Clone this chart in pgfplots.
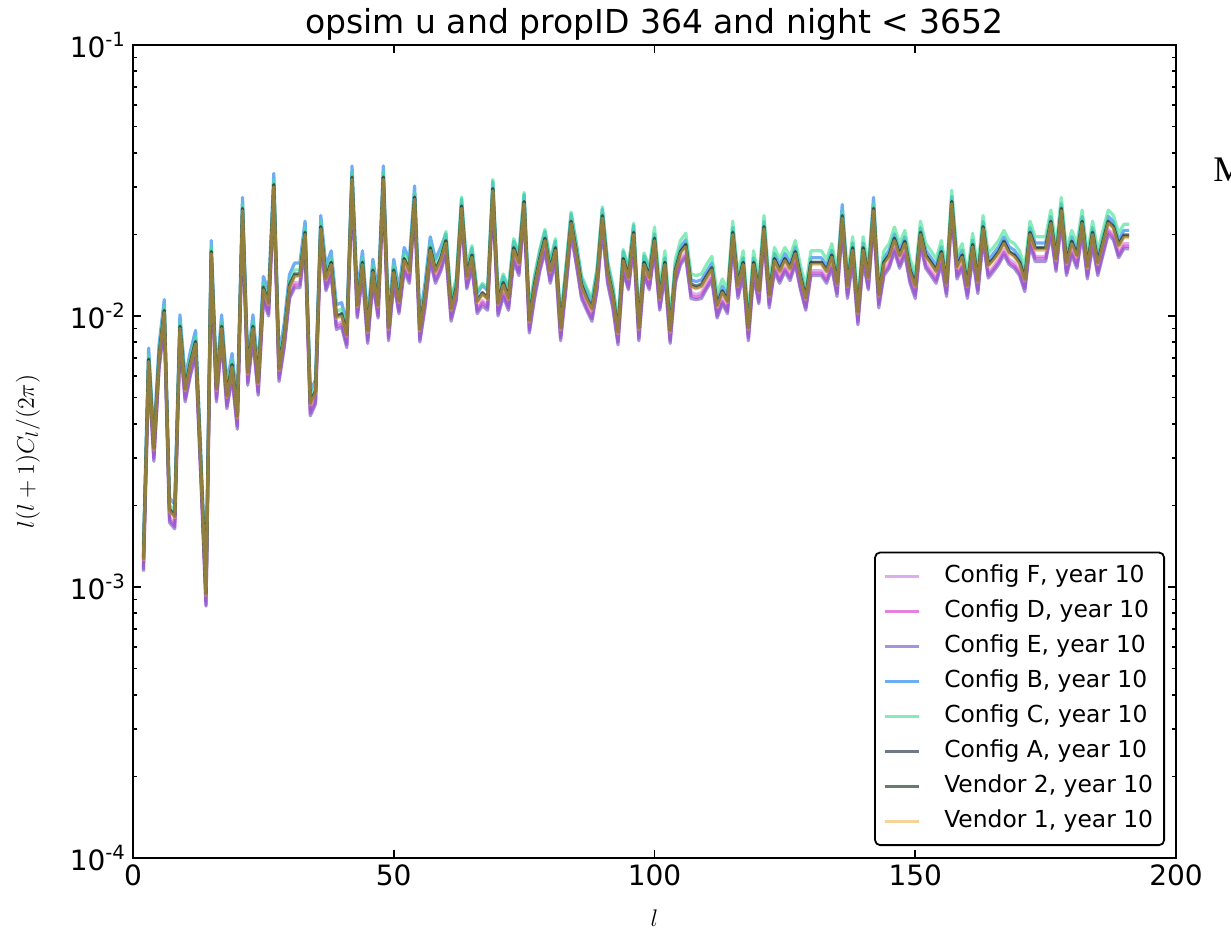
\documentclass[border=0pt]{standalone}
\usepackage{pgfplots}
\pgfplotsset{compat=1.18}
\usepackage{pgfplotstable}
\usepackage{fontspec}
\setmainfont{DejaVu Sans}
\newfontfamily\seriffont{Liberation Serif}

\definecolor{cF}{RGB}{205,130,230}
\definecolor{cD}{RGB}{215,60,205}
\definecolor{cE}{RGB}{120,90,200}
\definecolor{cB}{RGB}{30,130,240}
\definecolor{cC}{RGB}{70,225,150}
\definecolor{cA}{RGB}{35,50,70}
\definecolor{cW}{RGB}{20,55,30}
\definecolor{cV}{RGB}{240,175,70}

\pgfplotstableread{
l F D E B C A W V
2 1.19e-3 1.16e-3 1.14e-3 1.40e-3 1.33e-3 1.28e-3 1.26e-3 1.25e-3
3 6.46e-3 6.32e-3 6.19e-3 7.62e-3 7.21e-3 6.94e-3 6.87e-3 6.8e-3
4 3.04e-3 2.98e-3 2.91e-3 3.58e-3 3.39e-3 3.26e-3 3.23e-3 3.2e-3
5 6.65e-3 6.51e-3 6.37e-3 7.84e-3 7.42e-3 7.14e-3 7.07e-3 7.0e-3
6 9.79e-3 9.58e-3 9.37e-3 11.5e-3 10.9e-3 10.5e-3 10.4e-3 10.3e-3
7 1.81e-3 1.77e-3 1.73e-3 2.13e-3 2.01e-3 1.94e-3 1.92e-3 1.9e-3
8 1.71e-3 1.67e-3 1.64e-3 2.02e-3 1.91e-3 1.84e-3 1.82e-3 1.8e-3
9 8.55e-3 8.37e-3 8.19e-3 10.1e-3 9.54e-3 9.18e-3 9.09e-3 9.0e-3
10 5.04e-3 4.93e-3 4.82e-3 5.94e-3 5.62e-3 5.41e-3 5.35e-3 5.3e-3
11 6.27e-3 6.14e-3 6.01e-3 7.39e-3 7.0e-3 6.73e-3 6.67e-3 6.6e-3
12 7.51e-3 7.35e-3 7.19e-3 8.85e-3 8.37e-3 8.06e-3 7.98e-3 7.9e-3
13 2.66e-3 2.60e-3 2.55e-3 3.14e-3 2.97e-3 2.86e-3 2.83e-3 2.8e-3
14 0.88e-3 0.86e-3 0.85e-3 1.04e-3 0.99e-3 0.95e-3 0.94e-3 0.93e-3
15 16.2e-3 15.8e-3 15.5e-3 19.0e-3 18.0e-3 17.3e-3 17.2e-3 17.0e-3
16 5.04e-3 4.93e-3 4.82e-3 5.94e-3 5.62e-3 5.41e-3 5.35e-3 5.3e-3
17 8.55e-3 8.37e-3 8.19e-3 10.1e-3 9.54e-3 9.18e-3 9.09e-3 9.0e-3
18 4.75e-3 4.65e-3 4.55e-3 5.60e-3 5.30e-3 5.10e-3 5.05e-3 5.0e-3
19 6.18e-3 6.05e-3 5.92e-3 7.28e-3 6.89e-3 6.63e-3 6.57e-3 6.5e-3
20 3.99e-3 3.91e-3 3.82e-3 4.70e-3 4.45e-3 4.28e-3 4.24e-3 4.2e-3
21 23.3e-3 22.8e-3 22.3e-3 27.4e-3 26.0e-3 25.0e-3 24.7e-3 24.5e-3
22 5.80e-3 5.67e-3 5.55e-3 6.83e-3 6.47e-3 6.22e-3 6.16e-3 6.1e-3
23 8.55e-3 8.37e-3 8.19e-3 10.1e-3 9.54e-3 9.18e-3 9.09e-3 9.0e-3
24 5.32e-3 5.21e-3 5.10e-3 6.27e-3 5.94e-3 5.71e-3 5.66e-3 5.6e-3
25 11.9e-3 11.6e-3 11.4e-3 14.0e-3 13.3e-3 12.8e-3 12.6e-3 12.5e-3
26 10.5e-3 10.2e-3 10.0e-3 12.3e-3 11.7e-3 11.2e-3 11.1e-3 11.0e-3
27 28.5e-3 27.9e-3 27.3e-3 33.6e-3 31.8e-3 30.6e-3 30.3e-3 30.0e-3
28 5.99e-3 5.86e-3 5.73e-3 7.06e-3 6.68e-3 6.43e-3 6.36e-3 6.3e-3
29 7.98e-3 7.81e-3 7.64e-3 9.41e-3 8.90e-3 8.57e-3 8.48e-3 8.4e-3
30 12.1e-3 11.8e-3 11.6e-3 14.2e-3 13.5e-3 13.0e-3 12.8e-3 12.7e-3
31 13.3e-3 13.0e-3 12.7e-3 15.7e-3 14.8e-3 14.3e-3 14.1e-3 14.0e-3
32 13.3e-3 13.0e-3 12.7e-3 15.7e-3 14.8e-3 14.3e-3 14.1e-3 14.0e-3
33 19.0e-3 18.6e-3 18.2e-3 22.4e-3 21.2e-3 20.4e-3 20.2e-3 20.0e-3
34 4.47e-3 4.37e-3 4.28e-3 5.26e-3 4.98e-3 4.79e-3 4.75e-3 4.7e-3
35 4.94e-3 4.84e-3 4.73e-3 5.82e-3 5.51e-3 5.30e-3 5.25e-3 5.2e-3
36 20.0e-3 19.5e-3 19.1e-3 23.5e-3 22.3e-3 21.4e-3 21.2e-3 21.0e-3
37 12.9e-3 12.6e-3 12.4e-3 15.2e-3 14.4e-3 13.9e-3 13.7e-3 13.6e-3
38 14.7e-3 14.4e-3 14.1e-3 17.4e-3 16.4e-3 15.8e-3 15.7e-3 15.5e-3
39 9.31e-3 9.11e-3 8.92e-3 11.0e-3 10.4e-3 10.0e-3 9.90e-3 9.8e-3
40 9.50e-3 9.30e-3 9.10e-3 11.2e-3 10.6e-3 10.2e-3 10.1e-3 10.0e-3
41 7.98e-3 7.81e-3 7.64e-3 9.41e-3 8.90e-3 8.57e-3 8.48e-3 8.4e-3
42 30.4e-3 29.8e-3 29.1e-3 35.8e-3 33.9e-3 32.6e-3 32.3e-3 32.0e-3
43 10.3e-3 10.0e-3 9.83e-3 12.1e-3 11.4e-3 11.0e-3 10.9e-3 10.8e-3
44 14.7e-3 14.4e-3 14.1e-3 17.4e-3 16.4e-3 15.8e-3 15.7e-3 15.5e-3
45 8.27e-3 8.09e-3 7.92e-3 9.74e-3 9.22e-3 8.87e-3 8.79e-3 8.7e-3
46 13.8e-3 13.5e-3 13.2e-3 16.2e-3 15.4e-3 14.8e-3 14.6e-3 14.5e-3
47 10.3e-3 10.0e-3 9.83e-3 12.1e-3 11.4e-3 11.0e-3 10.9e-3 10.8e-3
48 30.4e-3 29.8e-3 29.1e-3 35.8e-3 33.9e-3 32.6e-3 32.3e-3 32.0e-3
49 8.46e-3 8.28e-3 8.10e-3 9.97e-3 9.43e-3 9.08e-3 8.99e-3 8.9e-3
50 13.8e-3 13.5e-3 13.2e-3 16.2e-3 15.4e-3 14.8e-3 14.6e-3 14.5e-3
51 10.6e-3 10.4e-3 10.2e-3 12.5e-3 11.9e-3 11.4e-3 11.3e-3 11.2e-3
52 15.2e-3 14.9e-3 14.6e-3 17.9e-3 17.0e-3 16.3e-3 16.2e-3 16.0e-3
53 13.8e-3 13.5e-3 13.2e-3 16.2e-3 15.4e-3 14.8e-3 14.6e-3 14.5e-3
54 25.7e-3 25.1e-3 24.6e-3 30.2e-3 28.6e-3 27.5e-3 27.3e-3 27.0e-3
55 8.36e-3 8.18e-3 8.01e-3 9.86e-3 9.33e-3 8.98e-3 8.89e-3 8.8e-3
56 11.2e-3 11.0e-3 10.7e-3 13.2e-3 12.5e-3 12.0e-3 11.9e-3 11.8e-3
57 16.6e-3 16.3e-3 15.9e-3 19.6e-3 18.6e-3 17.9e-3 17.7e-3 17.5e-3
58 13.8e-3 13.5e-3 13.2e-3 16.2e-3 15.4e-3 14.8e-3 14.6e-3 14.5e-3
59 15.2e-3 14.9e-3 14.6e-3 17.9e-3 17.0e-3 16.3e-3 16.2e-3 16.0e-3
60 17.7e-3 17.3e-3 16.9e-3 20.1e-3 20.5e-3 19.0e-3 18.8e-3 18.6e-3
61 9.98e-3 9.77e-3 9.56e-3 11.3e-3 11.6e-3 10.7e-3 10.6e-3 10.5e-3
62 11.9e-3 11.6e-3 11.4e-3 13.5e-3 13.8e-3 12.8e-3 12.6e-3 12.5e-3
63 23.8e-3 23.3e-3 22.8e-3 27.0e-3 27.5e-3 25.5e-3 25.3e-3 25.0e-3
64 13.1e-3 12.8e-3 12.6e-3 14.9e-3 15.2e-3 14.1e-3 13.9e-3 13.8e-3
65 15.7e-3 15.3e-3 15.0e-3 17.8e-3 18.2e-3 16.8e-3 16.7e-3 16.5e-3
66 10.6e-3 10.4e-3 10.2e-3 12.1e-3 12.3e-3 11.4e-3 11.3e-3 11.2e-3
67 11.4e-3 11.2e-3 10.9e-3 13.0e-3 13.2e-3 12.2e-3 12.1e-3 12.0e-3
68 10.9e-3 10.7e-3 10.5e-3 12.4e-3 12.7e-3 11.7e-3 11.6e-3 11.5e-3
69 27.6e-3 27.0e-3 26.4e-3 31.3e-3 31.9e-3 29.6e-3 29.3e-3 29.0e-3
70 10.5e-3 10.2e-3 10.0e-3 11.9e-3 12.1e-3 11.2e-3 11.1e-3 11.0e-3
71 12.4e-3 12.1e-3 11.8e-3 14.0e-3 14.3e-3 13.3e-3 13.1e-3 13.0e-3
72 10.9e-3 10.7e-3 10.5e-3 12.4e-3 12.7e-3 11.7e-3 11.6e-3 11.5e-3
73 16.6e-3 16.3e-3 15.9e-3 18.9e-3 19.3e-3 17.9e-3 17.7e-3 17.5e-3
74 14.7e-3 14.4e-3 14.1e-3 16.7e-3 17.1e-3 15.8e-3 15.7e-3 15.5e-3
75 24.7e-3 24.2e-3 23.7e-3 28.1e-3 28.6e-3 26.5e-3 26.3e-3 26.0e-3
76 9.03e-3 8.84e-3 8.65e-3 10.3e-3 10.5e-3 9.69e-3 9.60e-3 9.5e-3
77 12.2e-3 11.9e-3 11.6e-3 13.8e-3 14.1e-3 13.1e-3 12.9e-3 12.8e-3
78 15.2e-3 14.9e-3 14.6e-3 17.3e-3 17.6e-3 16.3e-3 16.2e-3 16.0e-3
79 18.1e-3 17.7e-3 17.3e-3 20.5e-3 20.9e-3 19.4e-3 19.2e-3 19.0e-3
80 13.8e-3 13.5e-3 13.2e-3 15.7e-3 16.0e-3 14.8e-3 14.6e-3 14.5e-3
81 16.6e-3 16.3e-3 15.9e-3 18.9e-3 19.3e-3 17.9e-3 17.7e-3 17.5e-3
82 8.46e-3 8.28e-3 8.10e-3 9.61e-3 9.79e-3 9.08e-3 8.99e-3 8.9e-3
83 13.0e-3 12.7e-3 12.5e-3 14.8e-3 15.1e-3 14.0e-3 13.8e-3 13.7e-3
84 20.9e-3 20.5e-3 20.0e-3 23.8e-3 24.2e-3 22.4e-3 22.2e-3 22.0e-3
85 16.2e-3 15.8e-3 15.5e-3 18.4e-3 18.7e-3 17.3e-3 17.2e-3 17.0e-3
86 12.2e-3 11.9e-3 11.6e-3 13.8e-3 14.1e-3 13.1e-3 12.9e-3 12.8e-3
87 10.9e-3 10.7e-3 10.5e-3 12.4e-3 12.7e-3 11.7e-3 11.6e-3 11.5e-3
88 9.98e-3 9.77e-3 9.56e-3 11.3e-3 11.6e-3 10.7e-3 10.6e-3 10.5e-3
89 13.0e-3 12.7e-3 12.5e-3 14.8e-3 15.1e-3 14.0e-3 13.8e-3 13.7e-3
90 21.9e-3 21.4e-3 20.9e-3 24.8e-3 25.3e-3 23.5e-3 23.2e-3 23.0e-3
91 13.8e-3 13.5e-3 13.2e-3 15.7e-3 16.0e-3 14.8e-3 14.6e-3 14.5e-3
92 11.2e-3 11.0e-3 10.7e-3 12.7e-3 13.0e-3 12.0e-3 11.9e-3 11.8e-3
93 8.17e-3 8.00e-3 7.83e-3 9.29e-3 9.46e-3 8.77e-3 8.69e-3 8.6e-3
94 15.2e-3 14.9e-3 14.6e-3 17.3e-3 17.6e-3 16.3e-3 16.2e-3 16.0e-3
95 13.0e-3 12.7e-3 12.5e-3 14.8e-3 15.1e-3 14.0e-3 13.8e-3 13.7e-3
96 19.0e-3 18.6e-3 18.2e-3 21.6e-3 22.0e-3 20.4e-3 20.2e-3 20.0e-3
97 8.46e-3 8.28e-3 8.10e-3 9.61e-3 9.79e-3 9.08e-3 8.99e-3 8.9e-3
98 14.7e-3 14.4e-3 14.1e-3 16.7e-3 17.1e-3 15.8e-3 15.7e-3 15.5e-3
99 13.0e-3 12.7e-3 12.5e-3 14.8e-3 15.1e-3 14.0e-3 13.8e-3 13.7e-3
100 18.1e-3 17.7e-3 17.3e-3 20.1e-3 21.3e-3 19.4e-3 19.2e-3 19.0e-3
101 10.9e-3 10.7e-3 10.5e-3 12.2e-3 12.9e-3 11.7e-3 11.6e-3 11.5e-3
102 14.7e-3 14.4e-3 14.1e-3 16.4e-3 17.4e-3 15.8e-3 15.7e-3 15.5e-3
103 8.27e-3 8.09e-3 7.92e-3 9.22e-3 9.74e-3 8.87e-3 8.79e-3 8.7e-3
104 13.8e-3 13.5e-3 13.2e-3 15.4e-3 16.2e-3 14.8e-3 14.6e-3 14.5e-3
105 16.2e-3 15.8e-3 15.5e-3 18.0e-3 19.0e-3 17.3e-3 17.2e-3 17.0e-3
106 17.1e-3 16.7e-3 16.4e-3 19.1e-3 20.2e-3 18.4e-3 18.2e-3 18.0e-3
107 12.2e-3 11.9e-3 11.6e-3 13.6e-3 14.3e-3 13.1e-3 12.9e-3 12.8e-3
108 12.0e-3 11.7e-3 11.5e-3 13.4e-3 14.1e-3 12.9e-3 12.7e-3 12.6e-3
109 12.2e-3 11.9e-3 11.6e-3 13.6e-3 14.3e-3 13.1e-3 12.9e-3 12.8e-3
110 13.1e-3 12.8e-3 12.6e-3 14.6e-3 15.5e-3 14.1e-3 13.9e-3 13.8e-3
111 14.1e-3 13.8e-3 13.5e-3 15.7e-3 16.6e-3 15.1e-3 14.9e-3 14.8e-3
112 10.3e-3 10.0e-3 9.83e-3 11.4e-3 12.1e-3 11.0e-3 10.9e-3 10.8e-3
113 11.6e-3 11.3e-3 11.1e-3 12.9e-3 13.7e-3 12.4e-3 12.3e-3 12.2e-3
114 10.6e-3 10.4e-3 10.2e-3 11.9e-3 12.5e-3 11.4e-3 11.3e-3 11.2e-3
115 19.0e-3 18.6e-3 18.2e-3 21.2e-3 22.4e-3 20.4e-3 20.2e-3 20.0e-3
116 12.2e-3 11.9e-3 11.6e-3 13.6e-3 14.3e-3 13.1e-3 12.9e-3 12.8e-3
117 14.7e-3 14.4e-3 14.1e-3 16.4e-3 17.4e-3 15.8e-3 15.7e-3 15.5e-3
118 8.46e-3 8.28e-3 8.10e-3 9.43e-3 9.97e-3 9.08e-3 8.99e-3 8.9e-3
119 14.7e-3 14.4e-3 14.1e-3 16.4e-3 17.4e-3 15.8e-3 15.7e-3 15.5e-3
120 11.6e-3 11.3e-3 11.1e-3 12.9e-3 13.7e-3 12.4e-3 12.3e-3 12.2e-3
121 20.0e-3 19.5e-3 19.1e-3 22.3e-3 23.5e-3 21.4e-3 21.2e-3 21.0e-3
122 11.2e-3 11.0e-3 10.7e-3 12.5e-3 13.2e-3 12.0e-3 11.9e-3 11.8e-3
123 15.2e-3 14.9e-3 14.6e-3 17.0e-3 17.9e-3 16.3e-3 16.2e-3 16.0e-3
124 13.8e-3 13.5e-3 13.2e-3 15.4e-3 16.2e-3 14.8e-3 14.6e-3 14.5e-3
125 15.2e-3 14.9e-3 14.6e-3 17.0e-3 17.9e-3 16.3e-3 16.2e-3 16.0e-3
126 14.1e-3 13.8e-3 13.5e-3 15.7e-3 16.6e-3 15.1e-3 14.9e-3 14.8e-3
127 16.2e-3 15.8e-3 15.5e-3 18.0e-3 19.0e-3 17.3e-3 17.2e-3 17.0e-3
128 13.0e-3 12.7e-3 12.5e-3 14.5e-3 15.3e-3 14.0e-3 13.8e-3 13.7e-3
129 10.9e-3 10.7e-3 10.5e-3 12.2e-3 12.9e-3 11.7e-3 11.6e-3 11.5e-3
130 14.7e-3 14.4e-3 14.1e-3 16.4e-3 17.4e-3 15.8e-3 15.7e-3 15.5e-3
131 14.7e-3 14.4e-3 14.1e-3 16.4e-3 17.4e-3 15.8e-3 15.7e-3 15.5e-3
132 14.7e-3 14.4e-3 14.1e-3 16.4e-3 17.4e-3 15.8e-3 15.7e-3 15.5e-3
133 13.8e-3 13.5e-3 13.2e-3 15.4e-3 16.2e-3 14.8e-3 14.6e-3 14.5e-3
134 15.7e-3 15.3e-3 15.0e-3 17.5e-3 18.5e-3 16.8e-3 16.7e-3 16.5e-3
135 12.4e-3 12.1e-3 11.8e-3 13.8e-3 14.6e-3 13.3e-3 13.1e-3 13.0e-3
136 21.9e-3 21.4e-3 20.9e-3 25.8e-3 24.4e-3 23.5e-3 23.2e-3 23.0e-3
137 12.2e-3 11.9e-3 11.6e-3 13.6e-3 14.3e-3 13.1e-3 12.9e-3 12.8e-3
138 16.6e-3 16.3e-3 15.9e-3 18.6e-3 19.6e-3 17.9e-3 17.7e-3 17.5e-3
139 9.69e-3 9.49e-3 9.28e-3 10.8e-3 11.4e-3 10.4e-3 10.3e-3 10.2e-3
140 16.6e-3 16.3e-3 15.9e-3 18.6e-3 19.6e-3 17.9e-3 17.7e-3 17.5e-3
141 13.0e-3 12.7e-3 12.5e-3 14.5e-3 15.3e-3 14.0e-3 13.8e-3 13.7e-3
142 23.3e-3 22.8e-3 22.3e-3 27.4e-3 26.0e-3 25.0e-3 24.7e-3 24.5e-3
143 11.2e-3 11.0e-3 10.7e-3 12.5e-3 13.2e-3 12.0e-3 11.9e-3 11.8e-3
144 14.7e-3 14.4e-3 14.1e-3 16.4e-3 17.4e-3 15.8e-3 15.7e-3 15.5e-3
145 15.7e-3 15.3e-3 15.0e-3 17.5e-3 18.5e-3 16.8e-3 16.7e-3 16.5e-3
146 18.1e-3 17.7e-3 17.3e-3 20.1e-3 21.3e-3 19.4e-3 19.2e-3 19.0e-3
147 15.7e-3 15.3e-3 15.0e-3 17.5e-3 18.5e-3 16.8e-3 16.7e-3 16.5e-3
148 17.6e-3 17.2e-3 16.8e-3 19.6e-3 20.7e-3 18.9e-3 18.7e-3 18.5e-3
149 13.8e-3 13.5e-3 13.2e-3 15.4e-3 16.2e-3 14.8e-3 14.6e-3 14.5e-3
150 12.2e-3 11.9e-3 11.6e-3 13.6e-3 14.3e-3 13.1e-3 12.9e-3 12.8e-3
151 19.0e-3 18.6e-3 18.2e-3 21.2e-3 22.4e-3 20.4e-3 20.2e-3 20.0e-3
152 15.7e-3 15.3e-3 15.0e-3 17.5e-3 18.5e-3 16.8e-3 16.7e-3 16.5e-3
153 14.7e-3 14.4e-3 14.1e-3 16.4e-3 17.4e-3 15.8e-3 15.7e-3 15.5e-3
154 13.8e-3 13.5e-3 13.2e-3 15.4e-3 16.2e-3 14.8e-3 14.6e-3 14.5e-3
155 16.2e-3 15.8e-3 15.5e-3 18.0e-3 19.0e-3 17.3e-3 17.2e-3 17.0e-3
156 12.4e-3 12.1e-3 11.8e-3 13.8e-3 14.6e-3 13.3e-3 13.1e-3 13.0e-3
157 24.7e-3 24.2e-3 23.7e-3 27.6e-3 29.1e-3 26.5e-3 26.3e-3 26.0e-3
158 14.3e-3 14.0e-3 13.7e-3 15.9e-3 16.8e-3 15.3e-3 15.2e-3 15.0e-3
159 15.7e-3 15.3e-3 15.0e-3 17.5e-3 18.5e-3 16.8e-3 16.7e-3 16.5e-3
160 12.2e-3 11.9e-3 11.6e-3 13.6e-3 14.3e-3 13.1e-3 12.9e-3 12.8e-3
161 17.1e-3 16.7e-3 16.4e-3 19.1e-3 20.2e-3 18.4e-3 18.2e-3 18.0e-3
162 12.6e-3 12.4e-3 12.1e-3 14.1e-3 14.9e-3 13.6e-3 13.4e-3 13.3e-3
163 20.0e-3 19.5e-3 19.1e-3 22.3e-3 23.5e-3 21.4e-3 21.2e-3 21.0e-3
164 14.4e-3 14.1e-3 13.8e-3 16.1e-3 17.0e-3 15.5e-3 15.4e-3 15.2e-3
165 15.2e-3 14.9e-3 14.6e-3 17.0e-3 17.9e-3 16.3e-3 16.2e-3 16.0e-3
166 16.2e-3 15.8e-3 15.5e-3 18.0e-3 19.0e-3 17.3e-3 17.2e-3 17.0e-3
167 17.6e-3 17.2e-3 16.8e-3 19.6e-3 20.7e-3 18.9e-3 18.7e-3 18.5e-3
168 16.2e-3 15.8e-3 15.5e-3 18.0e-3 19.0e-3 17.3e-3 17.2e-3 17.0e-3
169 15.7e-3 15.3e-3 15.0e-3 17.5e-3 18.5e-3 16.8e-3 16.7e-3 16.5e-3
170 14.7e-3 14.4e-3 14.1e-3 16.4e-3 17.4e-3 15.8e-3 15.7e-3 15.5e-3
171 12.8e-3 12.6e-3 12.3e-3 14.3e-3 15.1e-3 13.8e-3 13.6e-3 13.5e-3
172 19.0e-3 18.6e-3 18.2e-3 21.2e-3 22.4e-3 20.4e-3 20.2e-3 20.0e-3
173 16.6e-3 16.3e-3 15.9e-3 18.6e-3 19.6e-3 17.9e-3 17.7e-3 17.5e-3
174 16.6e-3 16.3e-3 15.9e-3 18.6e-3 19.6e-3 17.9e-3 17.7e-3 17.5e-3
175 16.6e-3 16.3e-3 15.9e-3 18.6e-3 19.6e-3 17.9e-3 17.7e-3 17.5e-3
176 20.9e-3 20.5e-3 20.0e-3 23.3e-3 24.6e-3 22.4e-3 22.2e-3 22.0e-3
177 15.2e-3 14.9e-3 14.6e-3 17.0e-3 17.9e-3 16.3e-3 16.2e-3 16.0e-3
178 23.3e-3 22.8e-3 22.3e-3 26.0e-3 27.4e-3 25.0e-3 24.7e-3 24.5e-3
179 14.7e-3 14.4e-3 14.1e-3 16.4e-3 17.4e-3 15.8e-3 15.7e-3 15.5e-3
180 17.6e-3 17.2e-3 16.8e-3 19.6e-3 20.7e-3 18.9e-3 18.7e-3 18.5e-3
181 15.7e-3 15.3e-3 15.0e-3 17.5e-3 18.5e-3 16.8e-3 16.7e-3 16.5e-3
182 20.9e-3 20.5e-3 20.0e-3 23.3e-3 24.6e-3 22.4e-3 22.2e-3 22.0e-3
183 14.3e-3 14.0e-3 13.7e-3 15.9e-3 16.8e-3 15.3e-3 15.2e-3 15.0e-3
184 19.0e-3 18.6e-3 18.2e-3 21.2e-3 22.4e-3 20.4e-3 20.2e-3 20.0e-3
185 14.7e-3 14.4e-3 14.1e-3 16.4e-3 17.4e-3 15.8e-3 15.7e-3 15.5e-3
186 17.6e-3 17.2e-3 16.8e-3 19.6e-3 20.7e-3 18.9e-3 18.7e-3 18.5e-3
187 20.9e-3 20.5e-3 20.0e-3 23.3e-3 24.6e-3 22.4e-3 22.2e-3 22.0e-3
188 20.0e-3 19.5e-3 19.1e-3 22.3e-3 23.5e-3 21.4e-3 21.2e-3 21.0e-3
189 17.1e-3 16.7e-3 16.4e-3 19.1e-3 20.2e-3 18.4e-3 18.2e-3 18.0e-3
190 18.5e-3 18.1e-3 17.7e-3 20.7e-3 21.8e-3 19.9e-3 19.7e-3 19.5e-3
191 18.5e-3 18.1e-3 17.7e-3 20.7e-3 21.8e-3 19.9e-3 19.7e-3 19.5e-3
}\cldata

\begin{document}
\begin{tikzpicture}
\begin{axis}[
  scale only axis,
  width=521.5pt, height=406.5pt,
  ymode=log,
  xmin=0, xmax=200, ymin=1e-4, ymax=1e-1,
  xtick={0,50,100,150,200},
  axis line style={line width=0.9pt},
  every tick/.style={black, line width=0.8pt},
  major tick length=4pt, minor tick length=2pt,
  tick align=inside,
  tick label style={font=\fontsize{14}{16}\selectfont, /pgf/number format/assume math mode=true},
  yticklabel={\pgfmathparse{int(round(\tick/2.302585093))}10\textsuperscript{\pgfmathresult}},
  title={opsim u and propID 364 and night < 3652},
  every axis title shift=0pt,
  title style={font=\fontsize{16.5}{19}\selectfont, at={(0.5,1)}, anchor=base, yshift=6pt},
  xlabel={$l$},
  xlabel style={font=\fontsize{13}{15}\selectfont, at={(axis description cs:0.5,-0.0738)}, anchor=center},
  ylabel={$l(l+1)C_l/(2\pi)$},
  ylabel style={font=\fontsize{13}{15}\selectfont, at={(axis description cs:-0.1007,0.5)}, anchor=center},
  legend cell align=left,
  legend image code/.code={\draw[#1] (0pt,0pt) -- (17pt,0pt);},
  legend style={at={(1,0)}, anchor=south east, xshift=-5.5pt, yshift=6pt,
    draw=black, line width=0.9pt, rounded corners=2.5pt,
    font=\fontsize{11.7}{13.5}\selectfont,
    inner xsep=4pt, inner ysep=4.5pt, row sep=2.7pt,
    nodes={inner sep=1.5pt, text height=9pt, text depth=2.8pt},
    /tikz/every odd column/.append style={column sep=10.5pt}},
  every axis plot/.append style={line width=1.6pt, draw opacity=0.65, line join=round, mark=none},
]
\addplot[cF] table[x=l, y=F] {\cldata};
\addlegendentry{Config F, year 10}
\addplot[cD] table[x=l, y=D] {\cldata};
\addlegendentry{Config D, year 10}
\addplot[cE] table[x=l, y=E] {\cldata};
\addlegendentry{Config E, year 10}
\addplot[cB] table[x=l, y=B] {\cldata};
\addlegendentry{Config B, year 10}
\addplot[cC] table[x=l, y=C] {\cldata};
\addlegendentry{Config C, year 10}
\addplot[cA] table[x=l, y=A] {\cldata};
\addlegendentry{Config A, year 10}
\addplot[cW] table[x=l, y=W] {\cldata};
\addlegendentry{Vendor 2, year 10}
\addplot[cV, draw opacity=0.55] table[x=l, y=V] {\cldata};
\addlegendentry{Vendor 1, year 10}
\end{axis}
\node[font=\seriffont\fontsize{18}{20}\selectfont, anchor=west, inner sep=0pt] at (540pt,344pt) {M};
\pgfresetboundingbox
\path[use as bounding box] (-66.5pt,-38pt) rectangle (549pt,429pt);
\end{tikzpicture}
\end{document}
